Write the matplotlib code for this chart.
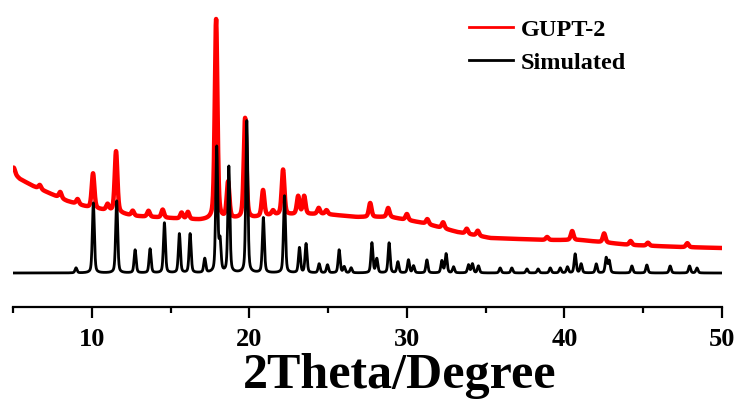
import numpy as np
import matplotlib
matplotlib.use("Agg")
import matplotlib.pyplot as plt

# simulated pattern: peak positions (2theta) and heights
sim_pos = [9.0, 10.10, 11.58, 12.75, 13.70, 14.61, 15.56, 16.24, 17.17, 17.93,
           18.14, 18.70, 19.84, 20.89, 22.23, 23.18, 23.60, 24.43, 24.96, 25.70,
           26.02, 26.46, 27.78, 28.09, 28.87, 29.43, 30.10, 30.42, 31.27, 32.22,
           32.49, 32.96, 33.91, 34.16, 34.54, 35.92, 36.66, 37.62, 38.33, 39.10,
           39.73, 40.19, 40.68, 41.06, 42.02, 42.65, 42.84, 44.28, 45.23, 46.71,
           47.94, 48.41]
sim_h = [5, 70, 72, 23, 24, 50, 39, 39, 14, 125,
         30, 106, 152, 55, 77, 25, 29, 9, 8, 23,
         6, 5, 30, 14, 30, 11, 13, 7, 13, 12,
         19, 6, 8, 9, 7, 5, 5, 4, 4, 5,
         5, 6, 19, 9, 9, 15, 12, 7, 8, 7,
         7, 5]

# experimental (GUPT-2): background points and peaks
bg_x = [5.0, 5.44, 6.27, 8.43, 9.89, 11.16, 12.62, 14.78, 16.87, 20.24,
        21.51, 24.68, 26.84, 28.94, 31.03, 33.19, 35.29, 38.9, 41.0, 44.17,
        47.35, 50.0]
bg_y = [100, 94, 87, 72, 65, 62, 57, 55, 53, 55,
        58, 59, 56, 56, 50, 41, 35, 33, 33, 28,
        26, 25]
exp_pos = [5.05, 6.7, 8.0, 9.1, 10.08, 11.0, 11.54, 12.6, 13.6, 14.5,
           15.7, 16.1, 17.89, 18.65, 19.73, 20.87, 21.5, 22.14, 23.1, 23.48,
           24.4, 24.9, 27.67, 28.81, 30.0, 31.3, 32.3, 33.8, 34.5, 38.9,
           40.49, 42.52, 44.2, 45.3, 47.8]
exp_h = [6, 4, 6, 5, 35, 6, 61, 5, 6, 8,
         6, 7, 200, 36, 100, 26, 4, 45, 18, 18,
         6, 4, 14, 9, 6, 5, 6, 5, 5, 3,
         9, 9, 4, 3, 4]

two_theta = np.linspace(5, 50, 4501)


def pattern(pos, h, w):
    y = np.zeros_like(two_theta)
    for p, a in zip(pos, h):
        g = np.exp(-4 * np.log(2) * ((two_theta - p) / w) ** 2)
        l = 1 / (1 + 4 * ((two_theta - p) / w) ** 2)
        y += a * (0.6 * g + 0.4 * l)
    return y


simulated = pattern(sim_pos, sim_h, 0.15)
experimental = np.interp(two_theta, bg_x, bg_y) + pattern(exp_pos, exp_h, 0.2)

font = "Liberation Serif"
fig = plt.figure(figsize=(7.39, 4.01), dpi=100)
ax = fig.add_axes([0.0176, 0.2344, 0.9594, 0.7406])

ax.plot(two_theta, experimental, color="#ff0000", lw=3.2, label="GUPT-2")
ax.plot(two_theta, simulated, color="black", lw=2.0, label="Simulated")

ax.set_xlim(5, 50)
ax.set_ylim(-34, 263)
for s in ["left", "right", "top"]:
    ax.spines[s].set_visible(False)
ax.spines["bottom"].set_linewidth(1.6)
ax.set_yticks([])
ax.set_xticks([10, 20, 30, 40, 50])
ax.set_xticks([5, 15, 25, 35, 45], minor=True)
ax.tick_params(axis="x", which="major", length=8, width=1.6, pad=7)
ax.tick_params(axis="x", which="minor", length=4.5, width=1.6)
for t in ax.get_xticklabels():
    t.set_fontfamily(font)
    t.set_fontweight("bold")
    t.set_fontsize(19)
ax.set_xlabel("2Theta/Degree", fontfamily=font, fontweight="bold",
              fontsize=36, labelpad=0)
ax.xaxis.set_label_coords(0.546, -0.155)

leg = ax.legend(loc="upper left", bbox_to_anchor=(0.613, 1.045), frameon=False,
                prop={"family": font, "weight": "bold", "size": 17.5},
                handlelength=1.8, handletextpad=0.3, labelspacing=0.45)
for line in leg.get_lines():
    line.set_linewidth(2.0)

fig.savefig("out.png", dpi=100)
